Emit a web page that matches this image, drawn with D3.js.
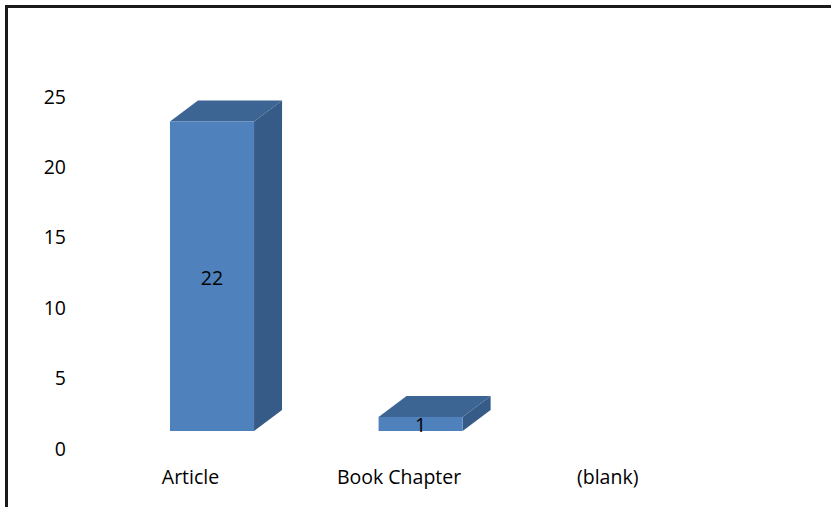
<!DOCTYPE html>
<html><head><meta charset="utf-8">
<script src="https://cdn.jsdelivr.net/npm/d3@7"></script>
<style>body{margin:0;background:#fff}svg{display:block}text{font-family:"Open Sans",sans-serif;fill:#000}</style>
</head><body>
<svg id="c" width="831" height="507"></svg>
<script>
const categories = ["Article", "Book Chapter", "(blank)"];
const values = [22, 1, null];
const yTicks = [0, 5, 10, 15, 20, 25];

const svg = d3.select("#c");
const W = 831, H = 507;
svg.append("rect").attr("width", W).attr("height", H).attr("fill", "#fff");
svg.append("path").attr("d", `M6.5,${H} L6.5,6.5 L${W},6.5`).attr("fill", "none").attr("stroke", "#1b1b1b").attr("stroke-width", 3);

const x = d3.scaleBand().domain(categories).range([107.7, 733.5]);
const y = d3.scaleLinear().domain([0, 25]).range([431, 79.25]);
const depthX = 28, depthY = 21;
const barW = x.bandwidth() * 0.403;
const fs = 19.5;

svg.append("g").selectAll("text").data(yTicks).join("text")
  .attr("x", 66).attr("y", d => y(d) + 17)
  .attr("text-anchor", "end").attr("dominant-baseline", "central")
  .attr("font-size", fs).text(d => d);

svg.append("g").selectAll("text").data(categories).join("text")
  .attr("x", d => x(d) + x.bandwidth() / 2 - 21.5).attr("y", 476)
  .attr("text-anchor", "middle").attr("dominant-baseline", "central")
  .attr("font-size", fs).text(d => d);

const data = categories.map((c, i) => ({ c, v: values[i] })).filter(d => d.v != null);
const g = svg.append("g");
data.forEach(d => {
  const x0 = x(d.c) + x.bandwidth() / 2 - barW / 2, x1 = x0 + barW;
  const yt = y(d.v), yb = y(0);
  g.append("path").attr("d", `M${x0},${yt} L${x0 + depthX},${yt - depthY} L${x1 + depthX},${yt - depthY} L${x1},${yt} Z`).attr("fill", "#3d6594");
  g.append("path").attr("d", `M${x1},${yt} L${x1 + depthX},${yt - depthY} L${x1 + depthX},${yb - depthY} L${x1},${yb} Z`).attr("fill", "#375b87");
  g.append("rect").attr("x", x0).attr("y", yt).attr("width", barW).attr("height", yb - yt).attr("fill", "#4f81bd");
  g.append("text").attr("x", (x0 + x1) / 2).attr("y", (yt + yb) / 2 + 1)
    .attr("text-anchor", "middle").attr("dominant-baseline", "central")
    .attr("font-size", fs).text(d.v);
});
</script>
</body></html>
